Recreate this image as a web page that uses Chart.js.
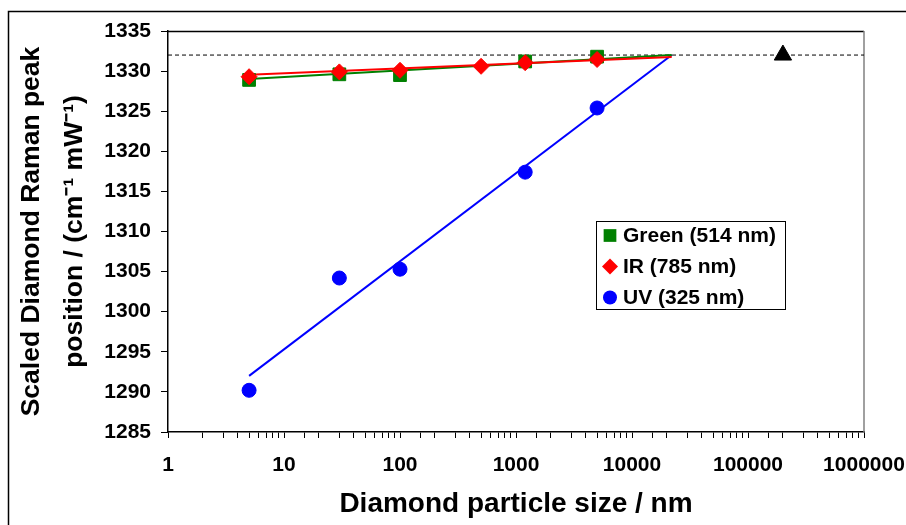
<!DOCTYPE html>
<html>
<head>
<meta charset="utf-8">
<script src="https://cdn.jsdelivr.net/npm/chart.js@4.4.1/dist/chart.umd.min.js"></script>
<style>
html, body { margin: 0; padding: 0; background: #fff; }
#wrap { position: relative; width: 906px; height: 525px; }
</style>
</head>
<body>
<div id="wrap"><canvas id="chart" width="906" height="525"></canvas></div>
<script>
const fontFamily = '"Liberation Sans", Arial, Helvetica, sans-serif';

const greenSize = [5, 30, 100, 1200, 5000];
const greenPeak = [1328.9, 1329.6, 1329.5, 1331.2, 1331.8];
const irSize = [5, 30, 100, 500, 1200, 5000];
const irPeak = [1329.3, 1329.9, 1330.1, 1330.6, 1331.05, 1331.45];
const uvSize = [5, 30, 100, 1200, 5000];
const uvPeak = [1290.2, 1304.2, 1305.3, 1317.4, 1325.4];

// trend lines (end points of the fits)
const fitSize = [5, 22000];
const greenFit = [1329.0, 1332.0];
const irFit = [1329.55, 1331.75];
const uvFit = [1292.0, 1332.0];

// bulk diamond reference
const bulkSize = [200000];
const bulkPeak = [1332];
const refSize = [1, 1000000];
const refPeak = [1332, 1332];

const yMin = 1285;
const yMax = 1335;
const yStep = 5;
const xMin = 1;
const xMax = 1000000;

const green = "#008000";
const red = "#ff0000";
const blue = "#0000ff";

const pts = (xs, ys) => xs.map((x, i) => ({ x: x, y: ys[i] }));

const legendItems = [
    { label: "Green (514 nm)", color: green, style: "rect", radius: 9 },
    { label: "IR (785 nm)", color: red, style: "rectRot", radius: 8 },
    { label: "UV (325 nm)", color: blue, style: "circle", radius: 7 }
];

const framePlugin = {
    id: "frame",
    beforeDatasetsDraw(chart) {
        const { ctx, chartArea: a } = chart;
        ctx.save();
        ctx.lineWidth = 1.5;
        ctx.strokeStyle = "#000";
        ctx.beginPath();
        ctx.moveTo(a.left, a.top + 0.5);
        ctx.lineTo(a.right, a.top + 0.5);
        ctx.stroke();
        ctx.strokeStyle = "#808080";
        ctx.beginPath();
        ctx.moveTo(a.right, a.top);
        ctx.lineTo(a.right, a.bottom);
        ctx.stroke();
        ctx.restore();
    },
    afterDraw(chart) {
        const { ctx } = chart;
        ctx.save();
        // outer frame
        ctx.strokeStyle = "#000";
        ctx.lineWidth = 1.5;
        ctx.beginPath();
        ctx.moveTo(8.5, 525);
        ctx.lineTo(8.5, 11.5);
        ctx.lineTo(906, 11.5);
        ctx.stroke();

        // legend box
        const bx = 596.5, by = 221.5, bw = 189, bh = 88;
        ctx.fillStyle = "#fff";
        ctx.fillRect(bx, by, bw, bh);
        ctx.lineWidth = 1;
        ctx.strokeRect(bx, by, bw, bh);
        ctx.font = "bold 21px " + fontFamily;
        ctx.textBaseline = "middle";
        ctx.textAlign = "left";
        legendItems.forEach((item, i) => {
            const y = 235.5 + i * 31;
            ctx.fillStyle = item.color;
            ctx.strokeStyle = item.color;
            Chart.helpers.drawPoint(ctx, { pointStyle: item.style, radius: item.radius, rotation: 0, borderWidth: 0 }, 610, y);
            ctx.fillStyle = "#000";
            ctx.fillText(item.label, 623, y + 1);
        });
        ctx.restore();
    }
};

const markerSet = (label, data, style, radius, color) => ({
    label: label,
    data: data,
    showLine: false,
    pointStyle: style,
    pointRadius: radius,
    pointBackgroundColor: color,
    pointBorderColor: color,
    pointBorderWidth: 1
});

const lineSet = (label, data, color, width, dash) => ({
    label: label,
    data: data,
    showLine: true,
    borderColor: color,
    borderWidth: width,
    borderDash: dash || [],
    pointRadius: 0,
    fill: false
});

new Chart(document.getElementById("chart"), {
    type: "scatter",
    data: {
        datasets: [
            markerSet("IR (785 nm)", pts(irSize, irPeak), "rectRot", 8, red),
            markerSet("Green (514 nm)", pts(greenSize, greenPeak), "rect", 9, green),
            markerSet("UV (325 nm)", pts(uvSize, uvPeak), "circle", 7, blue),
            markerSet("Bulk diamond", pts(bulkSize, bulkPeak), "triangle", 10, "#000"),
            lineSet("IR fit", pts(fitSize, irFit), red, 2),
            lineSet("Green fit", pts(fitSize, greenFit), green, 2),
            lineSet("UV fit", pts(fitSize, uvFit), blue, 2),
            lineSet("Bulk line", pts(refSize, refPeak), "#000", 1, [4, 3])
        ]
    },
    options: {
        responsive: false,
        animation: false,
        layout: { padding: { top: 31, right: 0, left: 0, bottom: 0 } },
        plugins: {
            legend: { display: false },
            tooltip: { enabled: false }
        },
        scales: {
            x: {
                type: "logarithmic",
                min: xMin,
                max: xMax,
                afterFit: (scale) => {
                    scale.height = 93;
                    scale.paddingRight = 42;
                },
                border: { display: true, color: "#000", width: 1.5 },
                grid: { drawOnChartArea: false, drawTicks: true, tickLength: 6, color: "#000", lineWidth: 1 },
                ticks: {
                    autoSkip: false,
                    maxRotation: 0,
                    padding: 15,
                    color: "#000",
                    font: { family: fontFamily, size: 21, weight: "bold" },
                    callback: (value) => {
                        const lg = Math.log10(value);
                        return Math.abs(lg - Math.round(lg)) < 1e-9 ? String(Math.round(value)) : "";
                    }
                },
                title: {
                    display: true,
                    text: "Diamond particle size / nm",
                    color: "#000",
                    padding: { top: 0, bottom: 4 },
                    font: { family: fontFamily, size: 28, weight: "bold", lineHeight: 1.2 }
                }
            },
            y: {
                min: yMin,
                max: yMax,
                afterFit: (scale) => { scale.width = 168; },
                border: { display: true, color: "#000", width: 1.5 },
                grid: { drawOnChartArea: false, drawTicks: true, tickLength: 7, color: "#000", lineWidth: 1 },
                ticks: {
                    stepSize: yStep,
                    padding: 10,
                    color: "#000",
                    font: { family: fontFamily, size: 21, weight: "bold" },
                    callback: (value) => String(value)
                },
                title: {
                    display: true,
                    text: ["Scaled Diamond Raman peak", "position / (cm\u207B\u00B9 mW\u207B\u00B9)"],
                    color: "#000",
                    padding: { top: 10, bottom: 0 },
                    font: { family: fontFamily, size: 26.5, weight: "bold", lineHeight: 1.63 }
                }
            }
        }
    },
    plugins: [framePlugin]
});
</script>
</body>
</html>
